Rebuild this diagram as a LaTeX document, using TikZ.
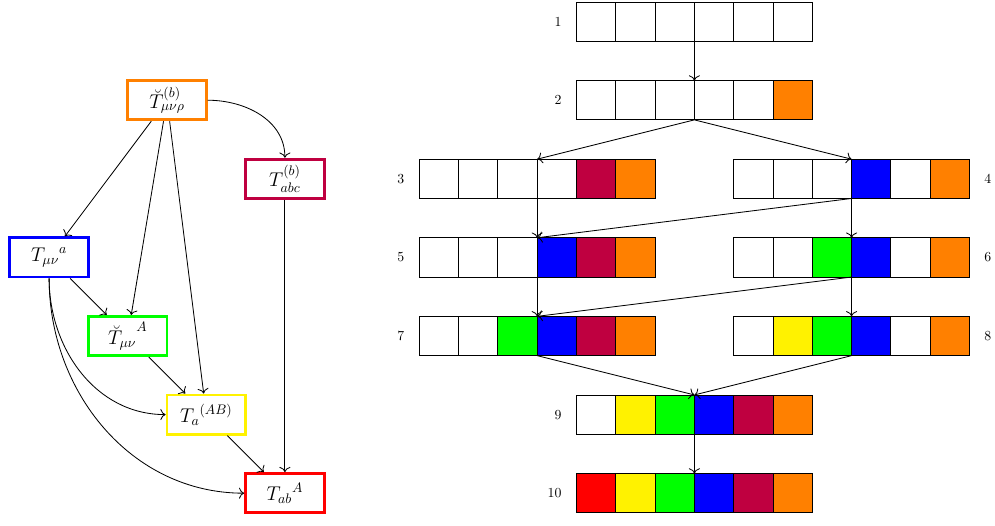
\documentclass[tikz,border=0pt]{standalone}
\usepackage{amssymb,amsmath}
\usetikzlibrary{positioning,arrows.meta}

\begin{document}
\begin{tikzpicture}[semithick,>={To[scale=1.3]}]
\tikzset{
  tens/.style={draw=#1,line width=2pt,minimum width=2cm,minimum height=1cm,inner sep=0pt,fill=white,font=\Large},
  cell/.style={draw,fill=#1,minimum size=1cm,inner sep=0pt,outer sep=0pt},
  rownum/.style={inner sep=2pt}
}
\useasboundingbox (0,0) rectangle (25.32,-13.36);

% the tensors
\node[tens=orange] (Tmnr) at (4.25,-2.55) {$\breve{T}^{(b)}_{\mu\nu\rho}$};
\node[tens=purple] (Tabc) at (7.25,-4.55) {$T^{(b)}_{abc}$};
\node[tens=blue] (Tmna) at (1.25,-6.55) {${T_{\mu\nu}}^a$};
\node[tens=green] (TmnA) at (3.25,-8.55) {${\breve{T}_{\mu\nu}\mkern0mu}^A$};
\node[tens=yellow] (TaAB) at (5.25,-10.55) {${T_a}^{(AB)}$};
\node[tens=red] (TabA) at (7.25,-12.55) {${T_{ab}}^A$};

\draw[->] (Tmnr) -- (Tmna);
\draw[->] (Tmnr) -- (TmnA);
\draw[->] (Tmnr) -- (TaAB);
\draw[->] (Tmnr.east) to[out=0,in=90] (Tabc.north);
\draw[->] (Tabc) -- (TabA);
\draw[->] (Tmna) -- (TmnA);
\draw[->] (Tmna.south) to[out=-90,in=180] (TaAB.west);
\draw[->] (Tmna.south) to[out=-90,in=180] (TabA.west);
\draw[->] (TmnA) -- (TaAB);
\draw[->] (TaAB) -- (TabA);

% the rows of cells
\foreach \c [count=\i] in {white,white,white,white,white,white}
  \node[cell=\c] (r1c\i) at (14.17+\i,-0.55) {};
\foreach \c [count=\i] in {white,white,white,white,white,orange}
  \node[cell=\c] (r2c\i) at (14.17+\i,-2.55) {};
\foreach \c [count=\i] in {white,white,white,white,purple,orange}
  \node[cell=\c] (r3c\i) at (10.17+\i,-4.55) {};
\foreach \c [count=\i] in {white,white,white,blue,white,orange}
  \node[cell=\c] (r4c\i) at (18.17+\i,-4.55) {};
\foreach \c [count=\i] in {white,white,white,blue,purple,orange}
  \node[cell=\c] (r5c\i) at (10.17+\i,-6.55) {};
\foreach \c [count=\i] in {white,white,green,blue,white,orange}
  \node[cell=\c] (r6c\i) at (18.17+\i,-6.55) {};
\foreach \c [count=\i] in {white,white,green,blue,purple,orange}
  \node[cell=\c] (r7c\i) at (10.17+\i,-8.55) {};
\foreach \c [count=\i] in {white,yellow,green,blue,white,orange}
  \node[cell=\c] (r8c\i) at (18.17+\i,-8.55) {};
\foreach \c [count=\i] in {white,yellow,green,blue,purple,orange}
  \node[cell=\c] (r9c\i) at (14.17+\i,-10.55) {};
\foreach \c [count=\i] in {red,yellow,green,blue,purple,orange}
  \node[cell=\c] (r10c\i) at (14.17+\i,-12.55) {};

\node[rownum,left=0.3cm of r1c1] (n1) {1};
\node[rownum,left=0.3cm of r2c1] (n2) {2};
\node[rownum,left=0.3cm of r3c1] (n3) {3};
\node[rownum,right=0.3cm of r4c6] (n4) {4};
\node[rownum,left=0.3cm of r5c1] (n5) {5};
\node[rownum,right=0.3cm of r6c6] (n6) {6};
\node[rownum,left=0.3cm of r7c1] (n7) {7};
\node[rownum,right=0.3cm of r8c6] (n8) {8};
\node[rownum,left=0.3cm of r9c1] (n9) {9};
\node[rownum,left=0.3cm of r10c1] (n10) {10};

\draw[->] (r1c3.south east) -- (r2c3.north east);
\draw[->] (r2c3.south east) -- (r3c3.north east);
\draw[->] (r2c3.south east) -- (r4c3.north east);
\draw[->] (r3c3.south east) -- (r5c3.north east);
\draw[->] (r4c3.south east) -- (r5c3.north east);
\draw[->] (r4c3.south east) -- (r6c3.north east);
\draw[->] (r5c3.south east) -- (r7c3.north east);
\draw[->] (r6c3.south east) -- (r7c3.north east);
\draw[->] (r6c3.south east) -- (r8c3.north east);
\draw[->] (r7c3.south east) -- (r9c3.north east);
\draw[->] (r8c3.south east) -- (r9c3.north east);
\draw[->] (r9c3.south east) -- (r10c3.north east);
\end{tikzpicture}
\end{document}
